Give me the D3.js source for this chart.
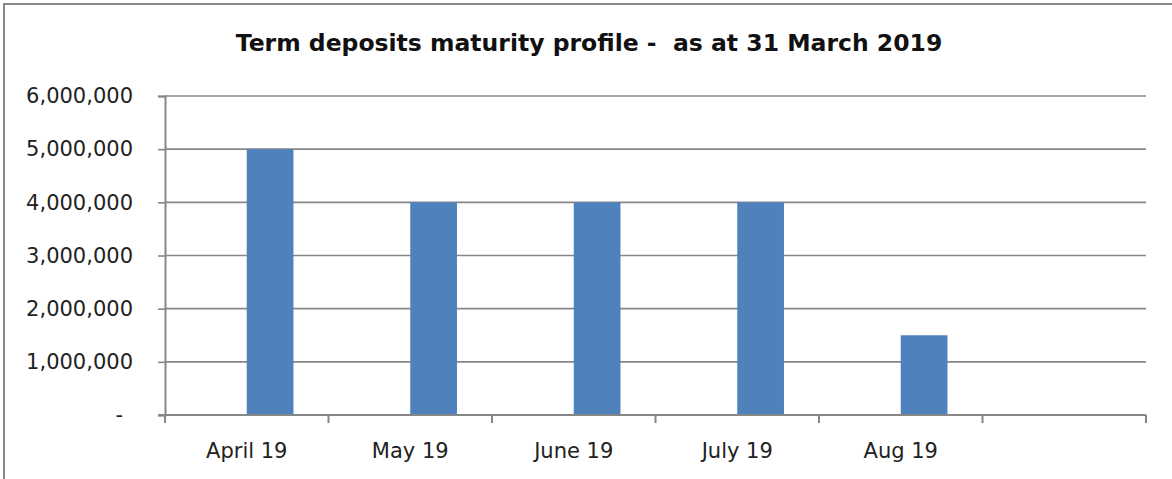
<!DOCTYPE html>
<html>
<head>
<meta charset="utf-8">
<script src="https://cdn.jsdelivr.net/npm/d3@7"></script>
<style>
  html, body { margin: 0; padding: 0; background: #fff; }
  svg { display: block; }
</style>
</head>
<body>
<svg id="chart"></svg>
<script>
// chart data
const categories = ["April 19", "May 19", "June 19", "July 19", "Aug 19", ""];
const seriesNames = ["Blank", "Maturing"];
const blankValues = [null, null, null, null, null, null];
const maturingValues = [5000000, 4000000, 4000000, 4000000, 1500000, null];
const yTickValues = [0, 1000000, 2000000, 3000000, 4000000, 5000000, 6000000];
const chartTitle = "Term deposits maturity profile -  as at 31 March 2019";

const width = 1172;
const height = 479;
const margin = { top: 96, right: 26, bottom: 64, left: 165 };
const fontFamily = "'DejaVu Sans', 'Open Sans', sans-serif";
const gray = "#878787";

const svg = d3.select("#chart")
  .attr("width", width)
  .attr("height", height)
  .attr("viewBox", `0 0 ${width} ${height}`);

// outer chart frame (right and bottom edges fall outside the crop)
svg.append("rect")
  .attr("x", 4)
  .attr("y", 4)
  .attr("width", width + 20)
  .attr("height", height + 20)
  .attr("fill", "#fff")
  .attr("stroke", gray)
  .attr("stroke-width", 2);

// scales
const x0 = d3.scaleBand()
  .domain(categories)
  .range([margin.left, width - margin.right])
  .padding(0);

// Excel style cluster: 2 series, gap width 150%
const x1 = d3.scaleBand()
  .domain(seriesNames)
  .range([0, x0.bandwidth()])
  .paddingInner(0)
  .paddingOuter(0.75);

const y = d3.scaleLinear()
  .domain([0, 6000000])
  .range([height - margin.bottom, margin.top]);

// gridlines
svg.append("g")
  .selectAll("line")
  .data(yTickValues.filter(d => d > 0))
  .join("line")
  .attr("x1", margin.left)
  .attr("x2", width - margin.right)
  .attr("y1", d => y(d))
  .attr("y2", d => y(d))
  .attr("stroke", gray)
  .attr("stroke-width", 1.6);

// bars
const rows = categories.map((c, i) => ({ cat: c, Blank: blankValues[i], Maturing: maturingValues[i] }));
svg.append("g")
  .selectAll("g")
  .data(rows)
  .join("g")
  .attr("transform", d => `translate(${x0(d.cat)},0)`)
  .selectAll("rect")
  .data(d => seriesNames.map(s => ({ s, v: d[s] })).filter(e => e.v != null))
  .join("rect")
  .attr("x", d => x1(d.s))
  .attr("width", x1.bandwidth())
  .attr("y", d => y(d.v))
  .attr("height", d => y(0) - y(d.v))
  .attr("fill", "#4F81BD");

// y axis
const yAxis = svg.append("g")
  .attr("transform", `translate(${margin.left},0)`)
  .call(d3.axisLeft(y)
    .tickValues(yTickValues)
    .tickFormat(d => d === 0 ? "-" : d3.format(",")(d))
    .tickSize(7)
    .tickPadding(25));

yAxis.select(".domain").attr("stroke", gray).attr("stroke-width", 2);
yAxis.selectAll(".tick line").attr("stroke", gray).attr("stroke-width", 1.6);
yAxis.selectAll(".tick text")
  .attr("font-family", fontFamily)
  .attr("font-size", "21px")
  .attr("fill", "#222")
  .attr("dx", d => d === 0 ? -10 : 0);

// x axis line and boundary ticks
const xAxis = svg.append("g");
xAxis.append("line")
  .attr("x1", margin.left - 7)
  .attr("x2", width - margin.right)
  .attr("y1", y(0))
  .attr("y2", y(0))
  .attr("stroke", gray)
  .attr("stroke-width", 2);

const boundaries = categories.map(c => x0(c)).concat([x0.range()[1]]);
xAxis.selectAll(".xtick")
  .data(boundaries)
  .join("line")
  .attr("class", "xtick")
  .attr("x1", d => d)
  .attr("x2", d => d)
  .attr("y1", y(0))
  .attr("y2", y(0) + 8)
  .attr("stroke", gray)
  .attr("stroke-width", 2);

xAxis.selectAll(".xlabel")
  .data(categories)
  .join("text")
  .attr("class", "xlabel")
  .attr("x", d => x0(d) + x0.bandwidth() / 2)
  .attr("y", y(0) + 43)
  .attr("text-anchor", "middle")
  .attr("font-family", fontFamily)
  .attr("font-size", "21px")
  .attr("fill", "#222")
  .text(d => d);

// title
svg.append("text")
  .attr("x", 589)
  .attr("y", 51)
  .attr("text-anchor", "middle")
  .attr("font-family", fontFamily)
  .attr("font-size", "23.5px")
  .attr("font-weight", "bold")
  .attr("fill", "#111")
  .style("white-space", "pre")
  .text(chartTitle);
</script>
</body>
</html>
